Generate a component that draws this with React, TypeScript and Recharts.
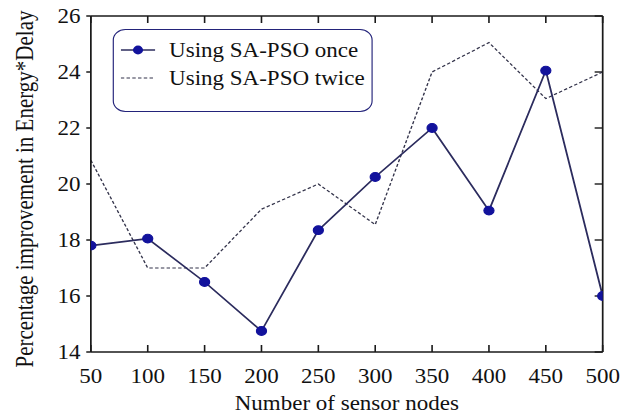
import React from 'react';
import { LineChart, Line, XAxis, YAxis, Legend, Label, ReferenceLine } from 'recharts';

const nodeCounts = [50, 100, 150, 200, 250, 300, 350, 400, 450, 500];
const onceValues = [17.8, 18.05, 16.5, 14.75, 18.35, 20.25, 22.0, 19.05, 24.05, 16.0];
const twiceValues = [20.85, 17.0, 17.0, 19.1, 20.0, 18.55, 24.0, 25.05, 23.05, 24.0];
const yTicks = [14, 16, 18, 20, 22, 24, 26];

const data = nodeCounts.map((n, i) => ({ nodes: n, once: onceValues[i], twice: twiceValues[i] }));

const FONT = "'Liberation Serif', Tinos, 'Times New Roman', 'DejaVu Serif', serif";
const AXIS = '#1a1a1a';
const ONCE = '#2c2c5e';
const DOT = '#12129c';
const TWICE = '#33334a';

// the source image is stretched sideways, so the chart is drawn narrower and scaled in x
const W = 546;
const H = 415;
const SX = 628 / W;
const TICK_LEN = 7;

const BottomTick = ({ x, y, payload }: any) => (
  <text x={x} y={y} dy="0.71em" textAnchor="middle" fontFamily={FONT} fontSize={20} fill="#111">
    {payload.value}
  </text>
);

// inward tick stubs at both ends of a vertical reference line (top and bottom frame)
const VerticalStubs = ({ x1, y1, y2 }: any) => {
  const top = Math.min(y1, y2);
  const bottom = Math.max(y1, y2);
  return (
    <g>
      <line x1={x1} x2={x1} y1={top} y2={top + TICK_LEN} stroke={AXIS} strokeWidth={1.4} />
      <line x1={x1} x2={x1} y1={bottom} y2={bottom - TICK_LEN} stroke={AXIS} strokeWidth={1.4} />
    </g>
  );
};

// inward stub on the right frame edge
const RightStub = ({ x1, x2, y1 }: any) => {
  const right = Math.max(x1, x2);
  return <line x1={right} x2={right - TICK_LEN} y1={y1} y2={y1} stroke={AXIS} strokeWidth={1.4} />;
};

const renderLegend = () => (
  <div
    style={{
      width: 226,
      height: 83,
      boxSizing: 'border-box',
      border: `1.5px solid #23237a`,
      borderRadius: 11,
      position: 'relative',
      background: '#fff',
      fontFamily: FONT,
      fontSize: 20,
      color: '#111',
    }}
  >
    {[
      { label: 'Using SA-PSO once', dash: undefined, dot: true, top: 8 },
      { label: 'Using SA-PSO twice', dash: '3 2', dot: false, top: 36 },
    ].map((row) => (
      <div key={row.label} style={{ position: 'absolute', left: 0, top: row.top, height: 24, width: '100%' }}>
        <svg width={30} height={12} style={{ position: 'absolute', left: 6, top: 6 }}>
          <line x1={0} y1={6} x2={30} y2={6} stroke={row.dot ? ONCE : TWICE} strokeWidth={row.dot ? 1.6 : 1.2} strokeDasharray={row.dash} />
          {row.dot && <circle cx={15} cy={6} r={4.4} fill={DOT} />}
        </svg>
        <span style={{ position: 'absolute', left: 48, top: 0, lineHeight: '24px', whiteSpace: 'nowrap' }}>{row.label}</span>
      </div>
    ))}
  </div>
);

export default function App() {
  return (
    <div
      style={{
        position: 'absolute',
        left: 0,
        top: 0,
        width: W,
        height: H,
        background: '#fff',
        transform: `scaleX(${SX})`,
        transformOrigin: '0 0',
      }}
    >
      <LineChart width={W} height={H} data={data} margin={{ top: 0, right: 0, bottom: 0, left: 0 }}>
        <XAxis
          xAxisId="b"
          dataKey="nodes"
          type="number"
          domain={[50, 500]}
          ticks={nodeCounts}
          interval={0}
          allowDataOverflow
          height={63}
          stroke={AXIS}
          strokeWidth={1.5}
          tickLine={false}
          tickSize={0}
          tickMargin={17}
          tick={<BottomTick />}
        >
          <Label
            content={({ viewBox }: any) => (
              <text
                x={viewBox.x + viewBox.width / 2}
                y={viewBox.y + viewBox.height - 5}
                textAnchor="middle"
                fontFamily={FONT}
                fontSize={20}
                fill="#111"
              >
                Number of sensor nodes
              </text>
            )}
          />
        </XAxis>
        <XAxis
          xAxisId="t"
          orientation="top"
          dataKey="nodes"
          type="number"
          domain={[50, 500]}
          allowDataOverflow
          height={16}
          stroke={AXIS}
          strokeWidth={1.5}
          tickLine={false}
          tick={false}
        />
        <YAxis
          yAxisId="l"
          type="number"
          domain={[14, 26]}
          ticks={yTicks}
          interval={0}
          allowDataOverflow
          width={79}
          stroke={AXIS}
          strokeWidth={1.5}
          tickSize={4}
          tickMargin={5}
          tick={{ fontFamily: FONT, fontSize: 20, fill: '#111' }}
        >
          <Label
            content={({ viewBox }: any) => {
              const cx = 29;
              const cy = viewBox.y + viewBox.height / 2 + 5;
              return (
                <text
                  x={cx}
                  y={cy}
                  transform={`rotate(-90 ${cx} ${cy})`}
                  textAnchor="middle"
                  fontFamily={FONT}
                  fontSize={21}
                  fill="#111"
                >
                  Percentage improvement in Energy*Delay
                </text>
              );
            }}
          />
        </YAxis>
        <YAxis
          yAxisId="r"
          orientation="right"
          type="number"
          domain={[14, 26]}
          allowDataOverflow
          width={22}
          stroke={AXIS}
          strokeWidth={1.5}
          tickLine={false}
          tick={false}
        />
        {nodeCounts.map((n) => (
          <ReferenceLine
            key={`vx-${n}`}
            xAxisId="b"
            yAxisId="l"
            x={n}
            ifOverflow="visible"
            shape={<VerticalStubs />}
          />
        ))}
        {yTicks.map((v) => (
          <ReferenceLine
            key={`hy-${v}`}
            xAxisId="b"
            yAxisId="l"
            y={v}
            ifOverflow="visible"
            shape={<RightStub />}
          />
        ))}
        <Legend
          layout="vertical"
          align="center"
          verticalAlign="middle"
          content={renderLegend}
          wrapperStyle={{ left: 98, top: 29, width: 226, height: 83 }}
        />
        <Line
          xAxisId="b"
          yAxisId="l"
          dataKey="twice"
          name="Using SA-PSO twice"
          stroke={TWICE}
          strokeWidth={1.2}
          strokeDasharray="3 2"
          dot={false}
          isAnimationActive={false}
        />
        <Line
          xAxisId="b"
          yAxisId="l"
          dataKey="once"
          name="Using SA-PSO once"
          stroke={ONCE}
          strokeWidth={1.6}
          dot={{ r: 4.4, fill: DOT, stroke: DOT, strokeWidth: 1 }}
          isAnimationActive={false}
        />
      </LineChart>
    </div>
  );
}
